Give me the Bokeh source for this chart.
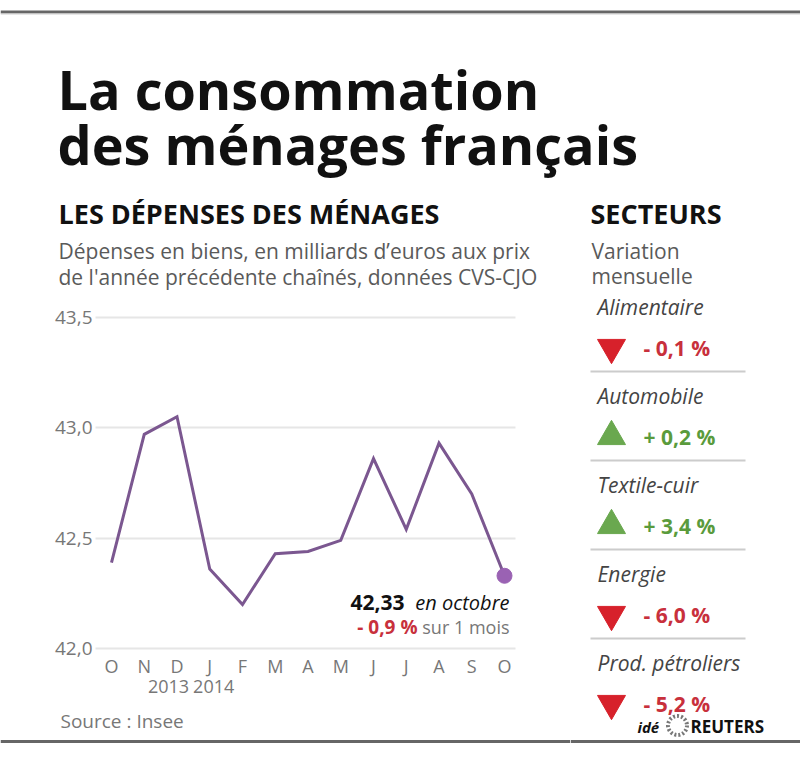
from bokeh.plotting import figure
from bokeh.models import (Range1d, FixedTicker, Label, BoxAnnotation, Span, LinearAxis,
                          CustomJSTickFormatter, ColumnDataSource)
from bokeh.layouts import row, column
from bokeh.embed import file_html
from bokeh.resources import INLINE
from bokeh.core.properties import value

# ---------------- data ----------------
months = ["O", "N", "D", "J", "F", "M", "A", "M", "J", "J", "A", "S", "O"]
spending = [42.39, 42.97, 43.05, 42.36, 42.20, 42.43, 42.44, 42.49, 42.86, 42.54, 42.93, 42.70, 42.33]
years = ["2013", "2014"]
year_split = 2.5          # between December (index 2) and January (index 3)
y_ticks = [42.0, 42.5, 43.0, 43.5]

sectors = ["Alimentaire", "Automobile", "Textile-cuir", "Energie", "Prod. pétroliers"]
sector_change = [-0.1, 0.2, 3.4, -6.0, -5.2]

title_lines = ["La consommation", "des ménages français"]
chart_head = "LES DÉPENSES DES MÉNAGES"
chart_sub = ["Dépenses en biens, en milliards d’euros aux prix",
             "de l'année précédente chaînés, données CVS-CJO"]
side_head = "SECTEURS"
side_sub = ["Variation", "mensuelle"]
source_txt = "Source : Insee"

# ---------------- style ----------------
FONT = "Open Sans"
DARK = "#111111"
GREY = "#5a5a5a"
LIGHT = "#777777"
RED_TXT = "#c8303c"
RED_TRI = "#d7212b"
GREEN_TXT = "#5a9b3c"
GREEN_TRI = "#6aa84f"
BORDER = "#666666"
W, H = 800, 760
TOP_H = 290
A_W = 570


def fr(v, d=1):
    return f"{v:.{d}f}".replace(".", ",")


def signed_pct(v):
    return ("- " if v < 0 else "+ ") + fr(abs(v)) + " %"


def bare(p):
    p.outline_line_color = None
    p.border_fill_color = "white"
    p.background_fill_color = "white"
    p.min_border = 0
    p.min_border_left = p.min_border_right = p.min_border_top = p.min_border_bottom = 0
    for g in p.grid:
        g.visible = False


# ---------------- top block: titles ----------------
pT = figure(width=W, height=TOP_H, output_backend="svg", toolbar_location=None,
            x_range=Range1d(0, W), y_range=Range1d(TOP_H, 0),
            x_axis_location=None, y_axis_location=None)
bare(pT)
pT.add_layout(Span(location=11.5, dimension="width", line_color=BORDER, line_width=3))
pT.add_layout(Span(location=13.5, dimension="width", line_color="#d0d0d0", line_width=1))


def ttext(x, y, txt, size, style="normal", color=DARK):
    pT.text(x=[x], y=[y], text=[txt], text_font=value(FONT), text_font_style=style,
            text_font_size=f"{size}px", text_color=color, text_baseline="alphabetic",
            text_align="left")


ttext(57, 88, title_lines[0], 54, "bold")
ttext(57, 143, title_lines[1], 54, "bold")
ttext(58, 213, chart_head, 27, "bold")
ttext(58, 250, chart_sub[0], 21, "normal", GREY)
ttext(58, 276, chart_sub[1], 21, "normal", GREY)
ttext(590, 213, side_head, 27, "bold")
ttext(591, 250, side_sub[0], 21, "normal", GREY)
ttext(591, 275, side_sub[1], 21, "normal", GREY)

# ---------------- left block: line chart ----------------
# pixel geometry of the chart (page coords): month 0 at x=111, 32.75 px per month,
# 43.5 at y=316.7, 221 px per unit
PX_M, X0 = 32.75, 111.0
PX_U, Y435 = 221.0, 316.7
xr = Range1d((0 - X0) / PX_M, (A_W - X0) / PX_M)
yr = Range1d(43.5 - (H - Y435) / PX_U, 43.5 + (Y435 - TOP_H) / PX_U)
grid_left = (95 - X0) / PX_M
grid_len = 420

pA = figure(width=A_W, height=H - TOP_H, output_backend="svg", toolbar_location=None,
            x_range=xr, y_range=yr)
bare(pA)

ya = pA.yaxis[0]
ya.fixed_location = grid_left
ya.ticker = FixedTicker(ticks=y_ticks)
ya.formatter = CustomJSTickFormatter(code="return tick.toFixed(1).replace('.', ',');")
ya.axis_line_color = None
ya.minor_tick_line_color = None
ya.major_tick_out = 0
ya.major_tick_in = grid_len
ya.major_tick_line_color = "#e6e6e6"
ya.major_tick_line_width = 2
ya.major_label_standoff = 3
ya.level = "underlay"

xa = pA.xaxis[0]
xa.fixed_location = y_ticks[0]
xa.ticker = FixedTicker(ticks=list(range(len(months))))
xa.formatter = CustomJSTickFormatter(args=dict(labels=months), code="return labels[Math.round(tick)];")
xa.major_label_standoff = -1

year_axis = LinearAxis(fixed_location=y_ticks[0],
                       ticker=FixedTicker(ticks=[year_split - 0.76, year_split + 0.62]),
                       formatter=CustomJSTickFormatter(args=dict(years=years, split=year_split),
                                                       code="return tick < split ? years[0] : years[1];"),
                       major_label_standoff=25)
pA.add_layout(year_axis, "below")

for ax in (xa, ya, year_axis):
    ax.major_label_text_font = FONT
    ax.major_label_text_color = LIGHT
    ax.major_label_text_font_size = "19px" if ax is ya else "18px"
for ax in (xa, year_axis):
    ax.axis_line_color = None
    ax.major_tick_line_color = None
    ax.minor_tick_line_color = None

idx = list(range(len(spending)))
src = ColumnDataSource(dict(x=idx, y=spending))
pA.line("x", "y", source=src, line_color="#7b5790", line_width=3, line_join="miter")
pA.scatter(x=[idx[-1]], y=[spending[-1]], size=15, fill_color="#9a62b3", line_color="#9a62b3")

last = spending[-1]
chg = (spending[-1] / spending[-2] - 1) * 100
bottom_A = H  # frame bottom in page px
ann = [
    (fr(last, 2), -100, 602, "bold", DARK, 21),
    ("en octobre", 5, 602, "italic", DARK, 20),
    (signed_pct(chg), -87, 626, "bold", RED_TXT, 19),
    ("sur 1 mois", 5, 626, "normal", LIGHT, 18),
]
for txt, xo, py, style, col, fs in ann:
    pA.add_layout(Label(x=idx[-1], y=bottom_A - py, y_units="screen", x_offset=xo, text=txt,
                        text_align="right", text_baseline="middle", text_font=FONT,
                        text_font_style=style, text_color=col, text_font_size=f"{fs}px"))

pA.add_layout(Label(x=60, y=bottom_A - 720, x_units="screen", y_units="screen", text=source_txt,
                    text_font=FONT, text_color=LIGHT, text_font_size="19px", text_baseline="middle"))
pA.add_layout(BoxAnnotation(top=bottom_A - 739.5, bottom=bottom_A - 742.5, top_units="screen",
                            bottom_units="screen", fill_color=BORDER, fill_alpha=1, line_color=None))

# ---------------- right block: sectors ----------------
n = len(sectors)
ROW0, ROW_STEP = 326.5, 89.0     # page y of first row centre, row pitch
LEFT_B = 590                      # page x of the separators' left end
pB = figure(width=W - A_W, height=H - TOP_H, output_backend="svg", toolbar_location=None,
            x_range=Range1d(A_W - LEFT_B, W - LEFT_B),
            y_range=Range1d((H - ROW0) / ROW_STEP, (TOP_H - ROW0) / ROW_STEP),
            x_axis_location=None, y_axis_location=None)
bare(pB)

VALUE_SHIFT = 20.5 / ROW_STEP
rows = list(range(n))
sB = ColumnDataSource(dict(
    name=sectors,
    y=rows,
    yv=[r + VALUE_SHIFT for r in rows],
    txt=[signed_pct(v) for v in sector_change],
    marker=["triangle" if v > 0 else "inverted_triangle" for v in sector_change],
    tri=[GREEN_TRI if v > 0 else RED_TRI for v in sector_change],
    col=[GREEN_TXT if v > 0 else RED_TXT for v in sector_change],
))
sep = [r + 0.5 for r in rows[:-1]]
pB.segment(x0=0, x1=155, y0=sep, y1=sep, line_color="#cccccc", line_width=2)
pB.text(x=7, y="y", text="name", source=sB, y_offset=-20.5, text_baseline="middle",
        text_font=value(FONT), text_font_style="italic", text_font_size="21px", text_color="#444444")
pB.scatter(x=21, y="yv", marker="marker", source=sB, size=28, fill_color="tri", line_color="tri")
pB.text(x=53, y="y", text="txt", source=sB, y_offset=20.5, text_baseline="middle",
        text_font=value(FONT), text_font_style="bold", text_font_size="21px", text_color="col")

# logo
pB.add_layout(Label(x=637 - A_W, y=H - 726, x_units="screen", y_units="screen", text="idé",
                    text_font=FONT, text_font_style="bold italic", text_font_size="15px",
                    text_color=DARK, text_baseline="middle"))
pB.scatter(x=[677 - LEFT_B], y=[(725 - ROW0) / ROW_STEP], size=19, fill_color=None,
           line_color="#777777", line_width=4, line_dash="2 2")
pB.add_layout(Label(x=690 - A_W, y=H - 726, x_units="screen", y_units="screen", text="REUTERS",
                    text_font=FONT, text_font_style="bold", text_font_size="17px",
                    text_color=DARK, text_baseline="middle"))
pB.add_layout(BoxAnnotation(top=H - 739.5, bottom=H - 742.5, top_units="screen",
                            bottom_units="screen", fill_color=BORDER, fill_alpha=1, line_color=None))

layout = column(pT, row(pA, pB))
open("out.html", "w").write(file_html(layout, INLINE))
